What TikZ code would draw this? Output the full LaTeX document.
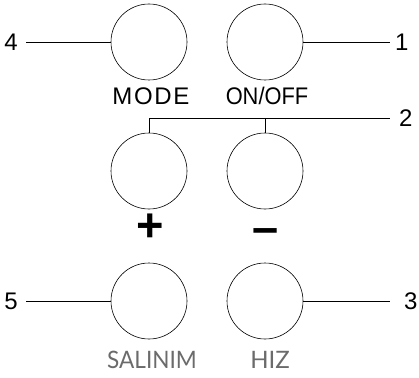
\documentclass[tikz,border=0pt]{standalone}
\usepackage{fontspec}
\setmainfont{Liberation Sans}
\newfontfamily\thinfont{Lato}
\usepackage{xcolor}
\usepackage{tikz}
\usetikzlibrary{positioning}

\begin{document}
\begin{tikzpicture}[x=1pt,y=-1pt,
    knob/.style={circle,draw,line width=0.6pt,minimum size=76pt,inner sep=0pt},
    lead/.style={line width=0.8pt},
    num/.style={font=\fontsize{24}{24}\selectfont,inner sep=0pt},
    tag/.style={font=\fontsize{24}{24}\selectfont,inner sep=0pt,anchor=base},
    sign/.style={font=\fontsize{47}{47}\bfseries,inner sep=0pt},
    soft/.style={font=\fontsize{24}{24}\thinfont,text=black!58,inner sep=0pt,anchor=base}]
            \useasboundingbox (0,0) rectangle (419,377);

            \node[knob] (mode) at (149,42) {};
            \node[knob] (onoff) at (265,42) {};
            \node[knob] (plus) at (149,171) {};
            \node[knob] (minus) at (265,171) {};
            \node[knob] (swing) at (149,301) {};
            \node[knob] (speed) at (265,301) {};

            \node[tag] (modetxt) at (151,104) {\addfontfeature{LetterSpace=7}MODE};
            \node[tag] (onofftxt) at (267,104) {\addfontfeature{FakeStretch=0.91}ON/OFF};
            \node[sign] (plustxt) at (150,228) {+};
            \node[sign] (minustxt) at (266,236) {–};
            \node[soft] (swingtxt) at (152,368) {\addfontfeature{FakeStretch=0.94}SALINIM};
            \node[soft] (speedtxt) at (270,368) {HIZ};

            \coordinate (e4) at (26,42);
            \coordinate (e1) at (390,42);
            \coordinate (e2) at (390,118);
            \coordinate (e5) at (26,301);
            \coordinate (e3) at (390,301);

            \node[num,left=8pt of e4] (n4) {4};
            \node[num,right=5pt of e1] (n1) {1};
            \node[num,right=9pt of e2] (n2) {2};
            \node[num,left=8pt of e5] (n5) {5};
            \node[num,right=14pt of e3] (n3) {3};

            \draw[lead] (e4) -- (mode.west);
            \draw[lead] (onoff.east) -- (e1);
            \draw[lead] (plus.north) |- (e2);
            \draw[lead] (minus.north) -- (minus.north |- e2);
            \draw[lead] (e5) -- (swing.west);
            \draw[lead] (speed.east) -- (e3);
        \end{tikzpicture}
\end{document}
